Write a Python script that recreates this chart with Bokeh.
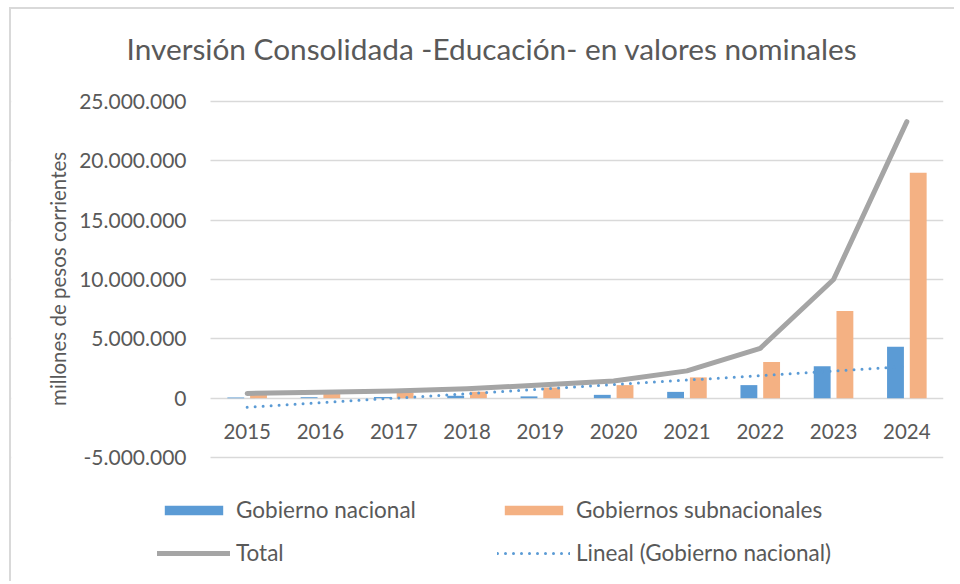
import numpy as np
from bokeh.plotting import figure
from bokeh.models import Range1d, Legend, LegendItem, FixedTicker, BoxAnnotation
from bokeh.core.properties import value
from bokeh.transform import dodge
from bokeh.embed import file_html
from bokeh.resources import INLINE

# ---- data (millions of current pesos) ----
years = ["2015", "2016", "2017", "2018", "2019", "2020", "2021", "2022", "2023", "2024"]
nacional = [0.05e6, 0.08e6, 0.10e6, 0.20e6, 0.15e6, 0.28e6, 0.53e6, 1.10e6, 2.70e6, 4.33e6]
subnacional = [0.30e6, 0.40e6, 0.45e6, 0.55e6, 0.90e6, 1.10e6, 1.75e6, 3.05e6, 7.35e6, 19.00e6]
total = [0.40e6, 0.50e6, 0.60e6, 0.80e6, 1.10e6, 1.45e6, 2.30e6, 4.20e6, 10.00e6, 23.30e6]
y_ticks = [-5e6, 0, 5e6, 10e6, 15e6, 20e6, 25e6]
y_tick_labels = ["-5.000.000", "0", "5.000.000", "10.000.000", "15.000.000",
                 "20.000.000", "25.000.000"]
title_text = "Inversión Consolidada -Educación- en valores nominales"
y_title = "millones de pesos corrientes"

# linear trend of Gobierno nacional (Excel "Lineal" trendline)
idx = np.arange(len(years))
slope, intercept = np.polyfit(idx, np.array(nacional), 1)
trend = list(intercept + slope * idx)

TXT = "#595959"
FONT = "Lato"

# the plot area covers the whole chart body so legend and labels are not clipped
p = figure(x_range=Range1d(-3.215, 9.5), y_range=Range1d(-15.618e6, 32.753e6),
           width=945, height=574, output_backend="svg", toolbar_location=None,
           min_border_left=0, min_border_right=13, min_border_top=0, min_border_bottom=0)
p.styles = {"border-left": "2px solid #d9d9d9", "border-top": "2px solid #d9d9d9",
            "margin-left": "9px", "margin-top": "7px"}
p.title.text = ""
p.title.visible = False

p.outline_line_color = None
p.background_fill_color = "white"
p.border_fill_color = "white"
p.xaxis.visible = False
p.yaxis.visible = False

p.xgrid.grid_line_color = None
p.ygrid.ticker = FixedTicker(ticks=y_ticks)
p.ygrid.grid_line_color = "#d9d9d9"
p.ygrid.grid_line_width = 1.5
# gridlines only across the category area
p.add_layout(BoxAnnotation(right=-0.5, fill_color="white", fill_alpha=1,
                           line_color=None, level="underlay"))

src = dict(x=idx, years=years, nacional=nacional, subnacional=subnacional,
           total=total, trend=trend, zero=[0] * len(years))

r_nac = p.vbar(x=dodge("x", -0.155), top="nacional", width=0.23,
               source=src, color="#5b9bd5", line_color=None)
r_sub = p.vbar(x=dodge("x", 0.155), top="subnacional", width=0.23,
               source=src, color="#f4b183", line_color=None)
r_tot = p.line(x="x", y="total", source=src, line_color="#a5a5a5", line_width=5,
               line_cap="round", line_join="round")
r_tr = p.line(x="x", y="trend", source=src, line_color="#5b9bd5", line_width=3,
              line_dash="0 8", line_cap="round")

# chart title
p.text(x=[-0.5], y=[y_ticks[-1]], text=[title_text], x_offset=-84, y_offset=-53,
       text_align="left", text_baseline="middle", text_font=value(FONT),
       text_font_size="29.8px", text_color=TXT)

# category labels under the zero line
p.text(x="x", y="zero", text="years", source=src, y_offset=33,
       text_align="center", text_baseline="middle", text_font=value(FONT),
       text_font_size="20.5px", text_color=TXT)

# value-axis labels
p.text(x=[-0.5] * len(y_ticks), y=y_ticks, text=y_tick_labels, x_offset=-24,
       text_align="right", text_baseline="middle", text_font=value(FONT),
       text_font_size="21px", text_color=TXT)
p.text(x=[-0.5], y=[10.05e6], text=[y_title], x_offset=-153,
       angle=np.pi / 2, text_align="center", text_baseline="middle",
       text_font=value(FONT), text_font_size="20.5px", text_color=TXT)

def mk_legend(items, x):
    return Legend(items=items, location=(x, 17), orientation="vertical",
                  glyph_width=73, glyph_height=12, label_height=27, spacing=16,
                  label_standoff=6, padding=0, margin=0,
                  border_line_color=None, background_fill_alpha=0,
                  label_text_font=FONT, label_text_font_size="22.5px", label_text_color=TXT)

lg1 = mk_legend([LegendItem(label="Gobierno nacional", renderers=[r_nac]),
                 LegendItem(label="Total", renderers=[r_tot])], 146)
lg2 = mk_legend([LegendItem(label="Gobiernos subnacionales", renderers=[r_sub]),
                 LegendItem(label="Lineal (Gobierno nacional)", renderers=[r_tr])], 486)
p.add_layout(lg1, "center")
p.add_layout(lg2, "center")

open("out.html", "w").write(file_html(p, INLINE))
